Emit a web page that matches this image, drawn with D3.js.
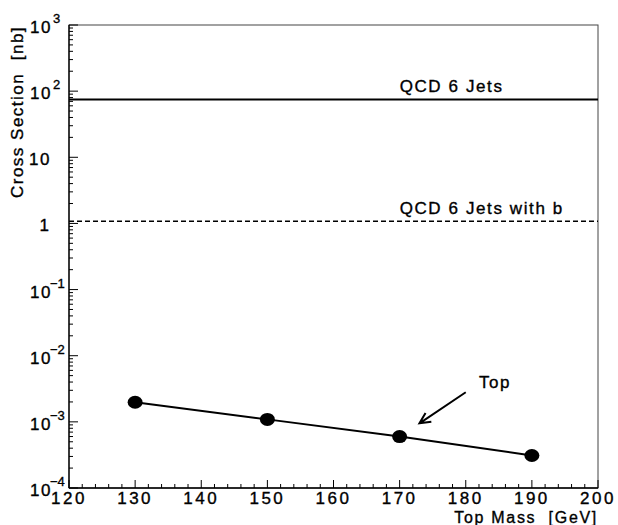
<!DOCTYPE html>
<html><head><meta charset="utf-8">
<script src="https://cdn.jsdelivr.net/npm/d3@7"></script>
<style>
html,body{margin:0;padding:0;background:#fff;}
text{font-family:"Liberation Sans",Arial,sans-serif;fill:#000;stroke:#000;stroke-width:0.35px;}
</style></head>
<body><svg id="c" width="618" height="525"></svg>
<script>
// ---- data ----
const topMass = [130, 150, 170, 190];
const topXsec = [1.98e-3, 1.09e-3, 6.0e-4, 3.1e-4];
const qcdLabels = ["QCD 6 Jets", "QCD 6 Jets with b"];
const qcdValues = [75, 1.08];
const qcdDashed = [false, true];
const qcdLabelX = 170;
const xTicks = [120, 130, 140, 150, 160, 170, 180, 190, 200];
const yExps = [3, 2, 1, 0, -1, -2, -3, -4];
const arrowFrom = [180, 2.8e-3];
const arrowTo = [173, 9.5e-4];
const topLabelPos = [182, 3.2e-3];

// ---- layout ----
const svg = d3.select("#c");
const L = 69, R = 598, T = 25, B = 488;
const x = d3.scaleLinear().domain([120, 200]).range([L, R]);
const y = d3.scaleLog().domain([1e-4, 1e3]).range([B, T]);

// frame
svg.append("rect").attr("x", L).attr("y", T).attr("width", R - L).attr("height", B - T)
  .attr("fill", "none").attr("stroke", "#444").attr("stroke-width", 1);
svg.append("line").attr("x1", L).attr("x2", L).attr("y1", T).attr("y2", B).attr("stroke", "#000").attr("stroke-width", 1.3);
svg.append("line").attr("x1", L).attr("x2", R).attr("y1", B).attr("y2", B).attr("stroke", "#000").attr("stroke-width", 1.3);

// x ticks (inward)
const xMinor = d3.range(120, 200.01, 2);
svg.append("g").selectAll("line").data(xMinor).join("line")
  .attr("x1", d => x(d)).attr("x2", d => x(d))
  .attr("y1", B).attr("y2", d => B - (d % 10 === 0 ? 8 : 4))
  .attr("stroke", "#000").attr("stroke-width", 1);
svg.append("g").selectAll("text").data(xTicks).join("text")
  .attr("x", d => x(d)).attr("y", 503.5).attr("text-anchor", "middle")
  .style("font-size", "17px").style("letter-spacing", "2.5px")
  .text(d => d);

// y ticks (inward)
const yMinor = [];
for (let e = -4; e < 3; e++) for (let m = 1; m < 10; m++) yMinor.push({v: m * Math.pow(10, e), major: m === 1});
yMinor.push({v: 1e3, major: true});
svg.append("g").selectAll("line").data(yMinor).join("line")
  .attr("x1", L).attr("x2", d => L + (d.major ? 9 : 4))
  .attr("y1", d => y(d.v)).attr("y2", d => y(d.v))
  .attr("stroke", "#000").attr("stroke-width", 1);

// y tick labels
const yl = svg.append("g");
yExps.forEach(e => {
  const yy = y(Math.pow(10, e));
  if (e === 0) {
    yl.append("text").attr("x", 49).attr("y", yy + 8).attr("text-anchor", "end")
      .style("font-size", "17px").text("1");
  } else if (e === 1) {
    yl.append("text").attr("x", 51).attr("y", yy + 8).attr("text-anchor", "end")
      .style("font-size", "17px").style("letter-spacing", "1.5px").text("10");
  } else {
    const t = yl.append("text").attr("x", 30).attr("y", yy + 8)
      .style("font-size", "17px");
    t.append("tspan").style("letter-spacing", "1.5px").text("10");
    t.append("tspan").attr("dx", e < 0 ? -2 : 1).attr("dy", -10).style("font-size", "13px")
      .text(e < 0 ? "\u2212" + Math.abs(e) : e);
  }
});

// axis titles
svg.append("text").attr("x", R).attr("y", 522.5).attr("text-anchor", "end")
  .style("font-size", "16px").style("letter-spacing", "1.7px").style("white-space", "pre")
  .text("Top Mass  [GeV]");
svg.append("text").attr("transform", "translate(23,112) rotate(-90)").attr("text-anchor", "middle")
  .style("font-size", "17px").style("letter-spacing", "1.5px").style("white-space", "pre")
  .text("Cross Section  [nb]");

// QCD lines
qcdValues.forEach((v, i) => {
  svg.append("line").attr("x1", x(120)).attr("x2", x(200)).attr("y1", y(v)).attr("y2", y(v))
    .attr("stroke", "#000").attr("stroke-width", qcdDashed[i] ? 1.5 : 2)
    .attr("stroke-dasharray", qcdDashed[i] ? "5,3" : null);
  svg.append("text").attr("x", x(qcdLabelX)).attr("y", y(v) - 7)
    .style("font-size", "17px").style("letter-spacing", "1.6px").text(qcdLabels[i]);
});

// top curve
const pts = topMass.map((m, i) => [m, topXsec[i]]);
svg.append("path").datum(pts)
  .attr("d", d3.line().x(d => x(d[0])).y(d => y(d[1])))
  .attr("fill", "none").attr("stroke", "#000").attr("stroke-width", 2);
svg.append("g").selectAll("ellipse").data(pts).join("ellipse")
  .attr("cx", d => x(d[0])).attr("cy", d => y(d[1])).attr("rx", 7.5).attr("ry", 6.5)
  .attr("fill", "#000");

// arrow + label
const ax1 = x(arrowFrom[0]), ay1 = y(arrowFrom[1]), ax2 = x(arrowTo[0]), ay2 = y(arrowTo[1]);
const ang = Math.atan2(ay2 - ay1, ax2 - ax1);
const hl = 12, ha = 0.45;
svg.append("path")
  .attr("d", `M${ax1},${ay1}L${ax2},${ay2}M${ax2 - hl * Math.cos(ang - ha)},${ay2 - hl * Math.sin(ang - ha)}L${ax2},${ay2}L${ax2 - hl * Math.cos(ang + ha)},${ay2 - hl * Math.sin(ang + ha)}`)
  .attr("fill", "none").attr("stroke", "#000").attr("stroke-width", 2);
svg.append("text").attr("x", x(topLabelPos[0])).attr("y", y(topLabelPos[1]))
  .style("font-size", "17px").style("letter-spacing", "1.5px").text("Top");
</script></body></html>
